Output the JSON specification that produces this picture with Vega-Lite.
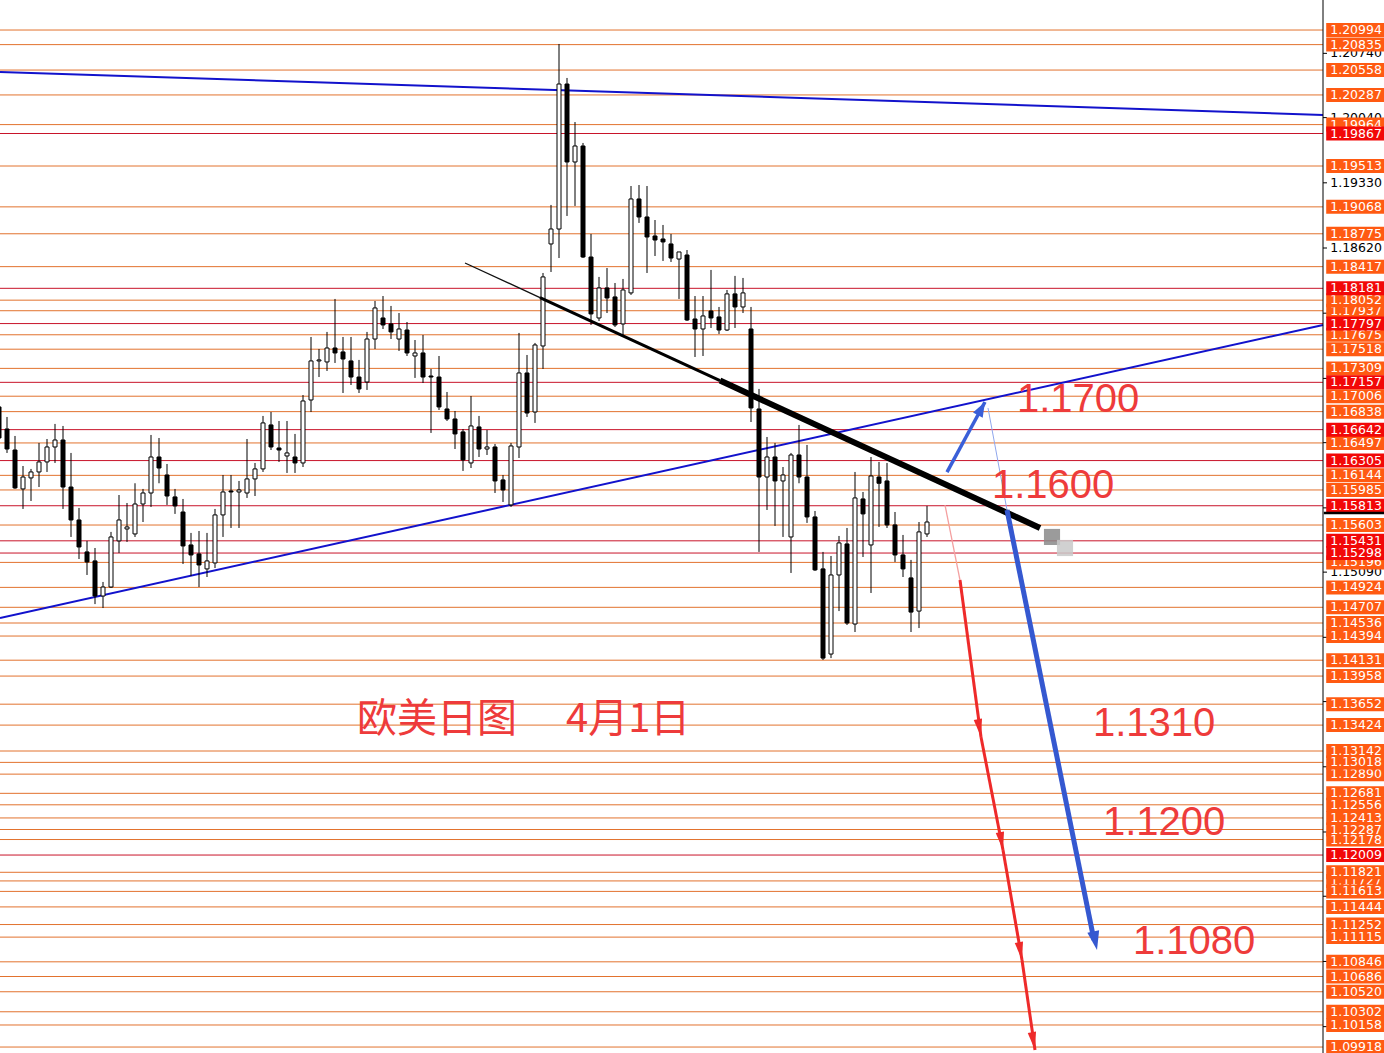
{
"$schema": "https://vega.github.io/schema/vega-lite/v6.json",
"width": 1384, "height": 1053, "autosize": {"type": "none"}, "padding": 0,
"background": "white",
"config": {"view": {"stroke": null}, "axis": {"disable": true}},
"datasets": {
"candles": [
{"i":1,"o":1.16889,"h":1.16965,"l":1.16475,"c":1.16551},
{"i":2,"o":1.16649,"h":1.16780,"l":1.16388,"c":1.16431},
{"i":3,"o":1.16420,"h":1.16573,"l":1.15996,"c":1.16007},
{"i":4,"o":1.15996,"h":1.16246,"l":1.15778,"c":1.16126},
{"i":5,"o":1.16116,"h":1.16214,"l":1.15865,"c":1.16181},
{"i":6,"o":1.16181,"h":1.16497,"l":1.16017,"c":1.16290},
{"i":7,"o":1.16290,"h":1.16540,"l":1.16181,"c":1.16453},
{"i":8,"o":1.16453,"h":1.16704,"l":1.16279,"c":1.16529},
{"i":9,"o":1.16529,"h":1.16682,"l":1.15778,"c":1.16017},
{"i":10,"o":1.16017,"h":1.16388,"l":1.15473,"c":1.15658},
{"i":11,"o":1.15658,"h":1.15789,"l":1.15233,"c":1.15364},
{"i":12,"o":1.15310,"h":1.15430,"l":1.15059,"c":1.15201},
{"i":13,"o":1.15212,"h":1.15353,"l":1.14742,"c":1.14830},
{"i":14,"o":1.14830,"h":1.14983,"l":1.14699,"c":1.14928},
{"i":15,"o":1.14928,"h":1.15528,"l":1.14918,"c":1.15473},
{"i":16,"o":1.15430,"h":1.15930,"l":1.15299,"c":1.15658},
{"i":17,"o":1.15560,"h":1.15843,"l":1.15419,"c":1.15582},
{"i":18,"o":1.15506,"h":1.16058,"l":1.15473,"c":1.15832},
{"i":19,"o":1.15832,"h":1.15996,"l":1.15636,"c":1.15952},
{"i":20,"o":1.15952,"h":1.16584,"l":1.15800,"c":1.16344},
{"i":21,"o":1.16344,"h":1.16551,"l":1.16058,"c":1.16224},
{"i":22,"o":1.16148,"h":1.16268,"l":1.15822,"c":1.15919},
{"i":23,"o":1.15909,"h":1.15996,"l":1.15724,"c":1.15811},
{"i":24,"o":1.15745,"h":1.15887,"l":1.15179,"c":1.15375},
{"i":25,"o":1.15386,"h":1.15517,"l":1.15048,"c":1.15277},
{"i":26,"o":1.15288,"h":1.15538,"l":1.14928,"c":1.15168},
{"i":27,"o":1.15125,"h":1.15517,"l":1.15037,"c":1.15212},
{"i":28,"o":1.15190,"h":1.15778,"l":1.15135,"c":1.15713},
{"i":29,"o":1.15713,"h":1.16148,"l":1.15473,"c":1.15963},
{"i":30,"o":1.15974,"h":1.16148,"l":1.15571,"c":1.15963},
{"i":31,"o":1.15963,"h":1.16083,"l":1.15571,"c":1.15985},
{"i":32,"o":1.15952,"h":1.16540,"l":1.15898,"c":1.16105},
{"i":33,"o":1.16105,"h":1.16279,"l":1.15919,"c":1.16214},
{"i":34,"o":1.16214,"h":1.16791,"l":1.16181,"c":1.16715},
{"i":35,"o":1.16693,"h":1.16834,"l":1.16420,"c":1.16453},
{"i":36,"o":1.16442,"h":1.16736,"l":1.16290,"c":1.16420},
{"i":37,"o":1.16355,"h":1.16736,"l":1.16170,"c":1.16388},
{"i":38,"o":1.16344,"h":1.16595,"l":1.16170,"c":1.16279},
{"i":39,"o":1.16279,"h":1.17019,"l":1.16235,"c":1.16954},
{"i":40,"o":1.16965,"h":1.17651,"l":1.16834,"c":1.17390},
{"i":41,"o":1.17390,"h":1.17520,"l":1.17215,"c":1.17401},
{"i":42,"o":1.17379,"h":1.17706,"l":1.17281,"c":1.17531},
{"i":43,"o":1.17531,"h":1.18065,"l":1.17368,"c":1.17477},
{"i":44,"o":1.17488,"h":1.17651,"l":1.17041,"c":1.17411},
{"i":45,"o":1.17390,"h":1.17651,"l":1.17128,"c":1.17215},
{"i":46,"o":1.17215,"h":1.17401,"l":1.17041,"c":1.17085},
{"i":47,"o":1.17161,"h":1.17706,"l":1.17074,"c":1.17629},
{"i":48,"o":1.17629,"h":1.18043,"l":1.17520,"c":1.17967},
{"i":49,"o":1.17858,"h":1.18097,"l":1.17738,"c":1.17782},
{"i":50,"o":1.17793,"h":1.17989,"l":1.17629,"c":1.17706},
{"i":51,"o":1.17629,"h":1.17912,"l":1.17499,"c":1.17738},
{"i":52,"o":1.17727,"h":1.17814,"l":1.17444,"c":1.17477},
{"i":53,"o":1.17444,"h":1.17618,"l":1.17205,"c":1.17477},
{"i":54,"o":1.17477,"h":1.17673,"l":1.17150,"c":1.17215},
{"i":55,"o":1.17226,"h":1.17303,"l":1.16606,"c":1.17215},
{"i":56,"o":1.17215,"h":1.17444,"l":1.16856,"c":1.16889},
{"i":57,"o":1.16867,"h":1.17052,"l":1.16736,"c":1.16758},
{"i":58,"o":1.16758,"h":1.16845,"l":1.16431,"c":1.16595},
{"i":59,"o":1.16617,"h":1.16649,"l":1.16192,"c":1.16312},
{"i":60,"o":1.16279,"h":1.17008,"l":1.16224,"c":1.16682},
{"i":61,"o":1.16671,"h":1.16791,"l":1.16344,"c":1.16431},
{"i":62,"o":1.16431,"h":1.16638,"l":1.16366,"c":1.16453},
{"i":63,"o":1.16453,"h":1.16486,"l":1.15952,"c":1.16083},
{"i":64,"o":1.16094,"h":1.16148,"l":1.15854,"c":1.15985},
{"i":65,"o":1.15822,"h":1.16497,"l":1.15800,"c":1.16464},
{"i":66,"o":1.16453,"h":1.17695,"l":1.16333,"c":1.17259},
{"i":67,"o":1.17259,"h":1.17455,"l":1.16780,"c":1.16823},
{"i":68,"o":1.16834,"h":1.17586,"l":1.16715,"c":1.17564},
{"i":69,"o":1.17553,"h":1.18348,"l":1.17303,"c":1.18305},
{"i":70,"o":1.18664,"h":1.19089,"l":1.18359,"c":1.18827},
{"i":71,"o":1.18827,"h":1.20842,"l":1.18511,"c":1.20406},
{"i":72,"o":1.20406,"h":1.20472,"l":1.18969,"c":1.19557},
{"i":73,"o":1.19557,"h":1.19992,"l":1.19078,"c":1.19731},
{"i":74,"o":1.19731,"h":1.19764,"l":1.18511,"c":1.18522},
{"i":75,"o":1.18522,"h":1.18773,"l":1.17782,"c":1.17902},
{"i":76,"o":1.17858,"h":1.18305,"l":1.17825,"c":1.18185},
{"i":77,"o":1.18185,"h":1.18402,"l":1.17912,"c":1.18076},
{"i":78,"o":1.18087,"h":1.18239,"l":1.17760,"c":1.17782},
{"i":79,"o":1.17793,"h":1.18283,"l":1.17673,"c":1.18163},
{"i":80,"o":1.18131,"h":1.19295,"l":1.18109,"c":1.19154},
{"i":81,"o":1.19154,"h":1.19306,"l":1.18893,"c":1.18958},
{"i":82,"o":1.18958,"h":1.19295,"l":1.18348,"c":1.18740},
{"i":83,"o":1.18751,"h":1.18925,"l":1.18533,"c":1.18707},
{"i":84,"o":1.18718,"h":1.18871,"l":1.18479,"c":1.18686},
{"i":85,"o":1.18664,"h":1.18773,"l":1.18468,"c":1.18511},
{"i":86,"o":1.18500,"h":1.18577,"l":1.18065,"c":1.18577},
{"i":87,"o":1.18544,"h":1.18598,"l":1.17825,"c":1.17836},
{"i":88,"o":1.17847,"h":1.18097,"l":1.17433,"c":1.17738},
{"i":89,"o":1.17738,"h":1.18097,"l":1.17444,"c":1.17880},
{"i":90,"o":1.17934,"h":1.18381,"l":1.17749,"c":1.17858},
{"i":91,"o":1.17869,"h":1.17978,"l":1.17684,"c":1.17727},
{"i":92,"o":1.17727,"h":1.18163,"l":1.17716,"c":1.18120},
{"i":93,"o":1.18120,"h":1.18316,"l":1.17749,"c":1.17978},
{"i":94,"o":1.17978,"h":1.18294,"l":1.17912,"c":1.18131},
{"i":95,"o":1.17738,"h":1.17978,"l":1.16725,"c":1.16878},
{"i":96,"o":1.16867,"h":1.17085,"l":1.15310,"c":1.16126},
{"i":97,"o":1.16126,"h":1.16562,"l":1.15767,"c":1.16344},
{"i":98,"o":1.16344,"h":1.16497,"l":1.15593,"c":1.16083},
{"i":99,"o":1.16083,"h":1.16235,"l":1.15473,"c":1.16148},
{"i":100,"o":1.15473,"h":1.16388,"l":1.15081,"c":1.16366},
{"i":101,"o":1.16366,"h":1.16693,"l":1.16058,"c":1.16126},
{"i":102,"o":1.16126,"h":1.16475,"l":1.15626,"c":1.15691},
{"i":103,"o":1.15691,"h":1.15756,"l":1.15103,"c":1.15114},
{"i":104,"o":1.15125,"h":1.15310,"l":1.14133,"c":1.14154},
{"i":105,"o":1.14198,"h":1.15266,"l":1.14154,"c":1.15059},
{"i":106,"o":1.15059,"h":1.15484,"l":1.14666,"c":1.15408},
{"i":107,"o":1.15397,"h":1.15571,"l":1.14514,"c":1.14536},
{"i":108,"o":1.14525,"h":1.16181,"l":1.14438,"c":1.15898},
{"i":109,"o":1.15887,"h":1.15963,"l":1.15255,"c":1.15724},
{"i":110,"o":1.15386,"h":1.16344,"l":1.14863,"c":1.16137},
{"i":111,"o":1.16126,"h":1.16290,"l":1.15582,"c":1.16058},
{"i":112,"o":1.16083,"h":1.16279,"l":1.15571,"c":1.15604},
{"i":113,"o":1.15604,"h":1.15745,"l":1.15201,"c":1.15277},
{"i":114,"o":1.15277,"h":1.15495,"l":1.15037,"c":1.15125},
{"i":115,"o":1.15027,"h":1.15223,"l":1.14438,"c":1.14655},
{"i":116,"o":1.14666,"h":1.15636,"l":1.14481,"c":1.15528},
{"i":117,"o":1.15506,"h":1.15811,"l":1.15473,"c":1.15636}
],
"hl": [
{"p":1.19964,"k":"oh"},{"p":1.17937,"k":"oh"},{"p":1.15196,"k":"oh"},{"p":1.12890,"k":"oh"},{"p":1.11727,"k":"oh"},
{"p":1.20994,"k":"o"},{"p":1.20835,"k":"o"},{"p":1.20558,"k":"o"},{"p":1.20287,"k":"o"},{"p":1.19513,"k":"o"},
{"p":1.19068,"k":"o"},{"p":1.18775,"k":"o"},{"p":1.18417,"k":"o"},{"p":1.18052,"k":"o"},{"p":1.17675,"k":"o"},
{"p":1.17518,"k":"o"},{"p":1.17309,"k":"o"},{"p":1.17006,"k":"o"},{"p":1.16838,"k":"o"},{"p":1.16497,"k":"o"},
{"p":1.16144,"k":"o"},{"p":1.15985,"k":"o"},{"p":1.15603,"k":"o"},{"p":1.14924,"k":"o"},{"p":1.14707,"k":"o"},
{"p":1.14536,"k":"o"},{"p":1.14394,"k":"o"},{"p":1.14131,"k":"o"},{"p":1.13958,"k":"o"},{"p":1.13652,"k":"o"},
{"p":1.13424,"k":"o"},{"p":1.13142,"k":"o"},{"p":1.13018,"k":"o"},{"p":1.12681,"k":"o"},{"p":1.12556,"k":"o"},
{"p":1.12413,"k":"o"},{"p":1.12287,"k":"o"},{"p":1.12178,"k":"o"},{"p":1.11821,"k":"o"},{"p":1.11613,"k":"o"},
{"p":1.11444,"k":"o"},{"p":1.11252,"k":"o"},{"p":1.11115,"k":"o"},{"p":1.10846,"k":"o"},{"p":1.10686,"k":"o"},
{"p":1.10520,"k":"o"},{"p":1.10302,"k":"o"},{"p":1.10158,"k":"o"},{"p":1.09918,"k":"o"},
{"p":1.19867,"k":"r"},{"p":1.18181,"k":"r"},{"p":1.17797,"k":"r"},{"p":1.17157,"k":"r"},{"p":1.16642,"k":"r"},
{"p":1.16305,"k":"r"},{"p":1.15813,"k":"r"},{"p":1.15431,"k":"r"},{"p":1.15298,"k":"r"},{"p":1.12009,"k":"r"}
],
"ticks": [
{"p":1.20740},{"p":1.20040},{"p":1.19330},{"p":1.18620},{"p":1.17910},{"p":1.17200},{"p":1.16500},{"p":1.15790},
{"p":1.15090},{"p":1.14380},{"p":1.13680},{"p":1.12970},{"p":1.12260},{"p":1.11560},{"p":1.10850},{"p":1.10140}
],
"tl": [
{"s":"bt","i":1.125,"p":1.20537},{"s":"bt","i":166.5,"p":1.20069},
{"s":"bl","i":1.125,"p":1.14590},{"s":"bl","i":166.5,"p":1.17782},
{"s":"k1","i":59.25,"p":1.18457},{"s":"k1","i":68.625,"p":1.18080},
{"s":"k2","i":68.625,"p":1.18080},{"s":"k2","i":91.125,"p":1.17176},
{"s":"k3","i":91.125,"p":1.17176},{"s":"k3","i":131.125,"p":1.15571},
{"s":"bth","i":124.625,"p":1.16878},{"s":"bth","i":127,"p":1.15767},
{"s":"bu","i":119.5,"p":1.16180},{"s":"bu","i":124.25,"p":1.16943},
{"s":"bd","i":127,"p":1.15767},{"s":"bd","i":137.875,"p":1.11083},
{"s":"r0","i":119.25,"p":1.15821},{"s":"r0","i":121.125,"p":1.15004},
{"s":"r1","i":121.125,"p":1.15004},{"s":"r1","i":123.75,"p":1.13294},
{"s":"r2","i":123.75,"p":1.13294},{"s":"r2","i":126.5,"p":1.12064},
{"s":"r3","i":126.5,"p":1.12064},{"s":"r3","i":128.875,"p":1.10866},
{"s":"r4","i":128.875,"p":1.10866},{"s":"r4","i":130.5,"p":1.09885}
],
"heads": [
{"s":"u","i":124.25,"p":1.16943},
{"s":"d","i":138.25,"p":1.10974},
{"s":"r","i":123.75,"p":1.13294},{"s":"r","i":126.5,"p":1.12064},{"s":"r","i":128.875,"p":1.10866},{"s":"r","i":130.5,"p":1.09885}
],
"blob": [{"i":132.625,"p":1.15473},{"i":134.25,"p":1.15353}],
"ann": [
{"t":"1.1700","i":128.25,"p":1.16965},
{"t":"1.1600","i":125.125,"p":1.16028},
{"t":"1.1310","i":137.75,"p":1.13436},
{"t":"1.1200","i":139,"p":1.12358},
{"t":"1.1080","i":142.75,"p":1.11062}
],
"title": [{"t":"欧美日图　 4月1日","i":45.75,"p":1.13479}],
"bid": [{"p":1.15734}],
"frame": [{"p0":1.09853,"p1":1.21321}]
},
"layer": [
{"data":{"name":"hl"},"mark":{"type":"rule","strokeWidth":1},
 "encoding":{
  "x":{"datum":1.125,"type":"quantitative","scale":{"domain":[1.125,174.125],"nice":false,"zero":false,"padding":0},"axis":null},
  "x2":{"datum":166.5},
  "y":{"field":"p","type":"quantitative","scale":{"domain":[1.09853,1.21321],"nice":false,"zero":false,"padding":0},"axis":null},
  "stroke":{"condition":{"test":"datum.k==='r'","value":"#C8142A"},"value":"#E2722E"}}},
{"data":{"name":"tl"},"transform":[{"filter":{"field":"s","oneOf":["bt","bl"]}}],
 "mark":{"type":"line","stroke":"#1212CC","strokeWidth":2},
 "encoding":{
  "x":{"field":"i","type":"quantitative","scale":{"domain":[1.125,174.125],"nice":false,"zero":false,"padding":0},"axis":null},
  "y":{"field":"p","type":"quantitative","scale":{"domain":[1.09853,1.21321],"nice":false,"zero":false,"padding":0},"axis":null},
  "detail":{"field":"s"}}},
{"data":{"name":"candles"},"mark":{"type":"rule","stroke":"black","strokeWidth":1},
 "encoding":{
  "x":{"field":"i","type":"quantitative","scale":{"domain":[1.125,174.125],"nice":false,"zero":false,"padding":0},"axis":null},
  "y":{"field":"l","type":"quantitative","scale":{"domain":[1.09853,1.21321],"nice":false,"zero":false,"padding":0},"axis":null},
  "y2":{"field":"h"}}},
{"data":{"name":"candles"},"mark":{"type":"bar","width":4,"stroke":"black","strokeWidth":1,"orient":"vertical"},
 "encoding":{
  "x":{"field":"i","type":"quantitative","scale":{"domain":[1.125,174.125],"nice":false,"zero":false,"padding":0},"axis":null},
  "y":{"field":"o","type":"quantitative","scale":{"domain":[1.09853,1.21321],"nice":false,"zero":false,"padding":0},"axis":null},
  "y2":{"field":"c"},
  "fill":{"condition":{"test":"datum.c > datum.o","value":"white"},"value":"black"}}},
{"data":{"name":"tl"},"transform":[{"filter":{"field":"s","equal":"k1"}}],
 "mark":{"type":"line","stroke":"#111111","strokeWidth":1.3},
 "encoding":{"x":{"field":"i","type":"quantitative"},"y":{"field":"p","type":"quantitative"}}},
{"data":{"name":"tl"},"transform":[{"filter":{"field":"s","equal":"k2"}}],
 "mark":{"type":"line","stroke":"#000000","strokeWidth":3},
 "encoding":{"x":{"field":"i","type":"quantitative"},"y":{"field":"p","type":"quantitative"}}},
{"data":{"name":"tl"},"transform":[{"filter":{"field":"s","equal":"k3"}}],
 "mark":{"type":"line","stroke":"#000000","strokeWidth":6},
 "encoding":{"x":{"field":"i","type":"quantitative"},"y":{"field":"p","type":"quantitative"}}},
{"data":{"name":"tl"},"transform":[{"filter":{"field":"s","equal":"bth"}}],
 "mark":{"type":"line","stroke":"#8FA6EC","strokeWidth":1},
 "encoding":{"x":{"field":"i","type":"quantitative"},"y":{"field":"p","type":"quantitative"}}},
{"data":{"name":"tl"},"transform":[{"filter":{"field":"s","equal":"bu"}}],
 "mark":{"type":"line","stroke":"#3A5FD8","strokeWidth":3.5},
 "encoding":{"x":{"field":"i","type":"quantitative"},"y":{"field":"p","type":"quantitative"}}},
{"data":{"name":"tl"},"transform":[{"filter":{"field":"s","equal":"bd"}}],
 "mark":{"type":"line","stroke":"#3558D0","strokeWidth":5},
 "encoding":{"x":{"field":"i","type":"quantitative"},"y":{"field":"p","type":"quantitative"}}},
{"data":{"name":"tl"},"transform":[{"filter":{"field":"s","equal":"r0"}}],
 "mark":{"type":"line","stroke":"#F4A0A0","strokeWidth":1.3},
 "encoding":{"x":{"field":"i","type":"quantitative"},"y":{"field":"p","type":"quantitative"}}},
{"data":{"name":"tl"},"transform":[{"filter":{"field":"s","oneOf":["r1","r2","r3","r4"]}}],
 "mark":{"type":"line","stroke":"#EE2A2A","strokeWidth":3},
 "encoding":{"x":{"field":"i","type":"quantitative"},"y":{"field":"p","type":"quantitative"},"detail":{"field":"s"}}},
{"data":{"name":"heads"},"transform":[{"filter":{"field":"s","equal":"u"}}],
 "mark":{"type":"point","shape":"M0,0L0.55,1.5L-0.55,1.5Z","size":400,"angle":28.5,"filled":true,"fill":"#3A5FD8","opacity":1,"strokeWidth":0},
 "encoding":{"x":{"field":"i","type":"quantitative"},"y":{"field":"p","type":"quantitative"}}},
{"data":{"name":"heads"},"transform":[{"filter":{"field":"s","equal":"d"}}],
 "mark":{"type":"point","shape":"M0,0L0.6,1.9L-0.6,1.9Z","size":400,"angle":168.6,"filled":true,"fill":"#3558D0","opacity":1,"strokeWidth":0},
 "encoding":{"x":{"field":"i","type":"quantitative"},"y":{"field":"p","type":"quantitative"}}},
{"data":{"name":"heads"},"transform":[{"filter":{"field":"s","equal":"r"}}],
 "mark":{"type":"point","shape":"M0,0L0.42,1.8L-0.42,1.8Z","size":400,"angle":170,"filled":true,"fill":"#EE2A2A","opacity":1,"strokeWidth":0},
 "encoding":{"x":{"field":"i","type":"quantitative"},"y":{"field":"p","type":"quantitative"}}},
{"data":{"name":"blob"},"mark":{"type":"square","size":260,"opacity":0.85},
 "encoding":{"x":{"field":"i","type":"quantitative"},"y":{"field":"p","type":"quantitative"},
  "fill":{"condition":{"test":"datum.i > 133","value":"#C9C9C9"},"value":"#8A8A8A"}}},
{"data":{"name":"ann"},"mark":{"type":"text","align":"left","baseline":"middle","font":"Liberation Sans","fontSize":40,"fill":"#EE3B3B"},
 "encoding":{"x":{"field":"i","type":"quantitative"},"y":{"field":"p","type":"quantitative"},"text":{"field":"t"}}},
{"data":{"name":"title"},"mark":{"type":"text","align":"left","baseline":"middle","font":"Noto Sans CJK SC","fontSize":40,"fill":"#EE3B3B"},
 "encoding":{"x":{"field":"i","type":"quantitative"},"y":{"field":"p","type":"quantitative"},"text":{"field":"t"}}},
{"data":{"name":"frame"},"mark":{"type":"rule","stroke":"black","strokeWidth":1},
 "encoding":{"x":{"datum":166.5,"type":"quantitative"},"y":{"field":"p0","type":"quantitative"},"y2":{"field":"p1"}}},
{"data":{"name":"ticks"},"mark":{"type":"rule","stroke":"black","strokeWidth":1},
 "encoding":{"x":{"datum":166.5,"type":"quantitative"},"x2":{"datum":167.0},"y":{"field":"p","type":"quantitative"}}},
{"data":{"name":"ticks"},"transform":[{"filter":{"field":"p","oneOf":[1.2074,1.2004,1.1933,1.1862,1.1509]}}],
 "mark":{"type":"text","align":"left","baseline":"middle","font":"DejaVu Sans","fontSize":12.5,"fill":"black"},
 "encoding":{"x":{"datum":167.4,"type":"quantitative"},"y":{"field":"p","type":"quantitative"},"text":{"field":"p","type":"quantitative","format":".5f"}}},
{"data":{"name":"hl"},"transform":[{"filter":{"field":"k","equal":"oh"}}],"mark":{"type":"rule","strokeWidth":14,"stroke":"#FF5A12"},
 "encoding":{"x":{"datum":166.9,"type":"quantitative"},"x2":{"datum":174.2},"y":{"field":"p","type":"quantitative"}}},
{"data":{"name":"hl"},"transform":[{"filter":{"field":"k","equal":"oh"}}],"mark":{"type":"text","align":"left","baseline":"middle","font":"DejaVu Sans","fontSize":12.5,"fill":"white"},
 "encoding":{"x":{"datum":167.4,"type":"quantitative"},"y":{"field":"p","type":"quantitative"},"text":{"field":"p","type":"quantitative","format":".5f"}}},
{"data":{"name":"hl"},"transform":[{"filter":{"field":"k","equal":"o"}}],"mark":{"type":"rule","strokeWidth":14,"stroke":"#FF5A12"},
 "encoding":{"x":{"datum":166.9,"type":"quantitative"},"x2":{"datum":174.2},"y":{"field":"p","type":"quantitative"}}},
{"data":{"name":"hl"},"transform":[{"filter":{"field":"k","equal":"o"}}],"mark":{"type":"text","align":"left","baseline":"middle","font":"DejaVu Sans","fontSize":12.5,"fill":"white"},
 "encoding":{"x":{"datum":167.4,"type":"quantitative"},"y":{"field":"p","type":"quantitative"},"text":{"field":"p","type":"quantitative","format":".5f"}}},
{"data":{"name":"hl"},"transform":[{"filter":{"field":"k","equal":"r"}}],"mark":{"type":"rule","strokeWidth":14,"stroke":"#F20808"},
 "encoding":{"x":{"datum":166.9,"type":"quantitative"},"x2":{"datum":174.2},"y":{"field":"p","type":"quantitative"}}},
{"data":{"name":"hl"},"transform":[{"filter":{"field":"k","equal":"r"}}],"mark":{"type":"text","align":"left","baseline":"middle","font":"DejaVu Sans","fontSize":12.5,"fill":"white"},
 "encoding":{"x":{"datum":167.4,"type":"quantitative"},"y":{"field":"p","type":"quantitative"},"text":{"field":"p","type":"quantitative","format":".5f"}}},
{"data":{"name":"bid"},"mark":{"type":"rule","stroke":"black","strokeWidth":2.5},
 "encoding":{"x":{"datum":166.6,"type":"quantitative"},"x2":{"datum":174.2},"y":{"field":"p","type":"quantitative"}}}
]
}
